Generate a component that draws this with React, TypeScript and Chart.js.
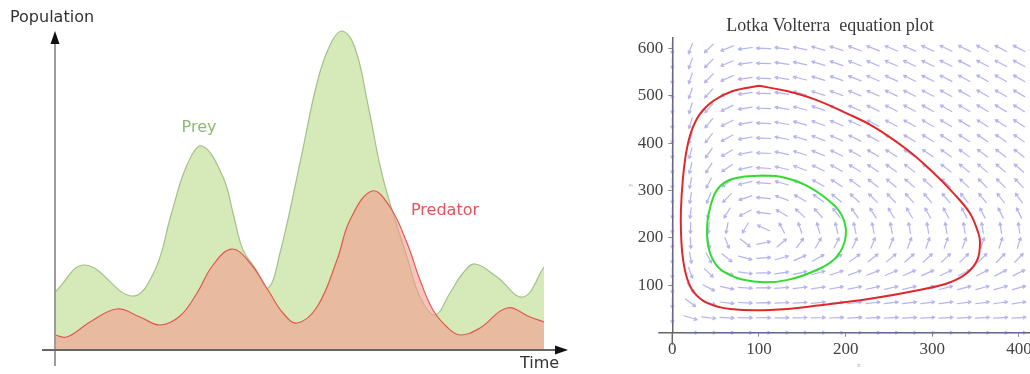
import React, { useEffect, useRef } from "react";
import { Chart, registerables } from "chart.js";

Chart.register(...registerables);

// ---------- Left chart: population over time ----------
const PREY_TIME = [0, 30, 77, 100, 116, 132, 147, 168, 178, 188, 200, 213, 225, 245, 262, 275, 287, 300, 313, 326, 337, 352, 365, 380, 395, 408, 420, 442, 468, 489];
const PREY = [58, 85, 54, 80, 135, 185, 204, 173, 137, 100, 82, 62, 97, 187, 267, 305, 319, 302, 245, 180, 140, 93, 53, 35, 57, 77, 86, 73, 53, 83];

const PREDATOR_TIME = [0, 12, 35, 62, 85, 105, 125, 142, 158, 177, 195, 213, 228, 242, 262, 282, 295, 317, 335, 352, 365, 378, 392, 405, 425, 452, 475, 489];
const PREDATOR = [15, 13, 28, 41, 33, 25, 34, 57, 85, 101, 87, 60, 37, 27, 43, 90, 130, 159, 143, 107, 70, 40, 23, 15, 22, 42, 33, 28];

const LEFT_LABELS = { prey: "Prey", predator: "Predator", yTitle: "Population", xTitle: "Time" };

// ---------- Right chart: Lotka-Volterra phase plane ----------
const OUTER_X = [100, 70, 48, 32, 22, 16, 12, 10, 10, 12, 17, 25, 40, 67, 113, 171, 230, 285, 320, 340, 352, 355, 353, 343, 324, 301, 271, 232, 200, 165, 132, 100];
const OUTER_Y = [521, 510, 490, 462, 425, 380, 320, 260, 215, 160, 115, 85, 63, 50, 48, 58, 72, 90, 106, 126, 154, 190, 211, 253, 295, 338, 386, 435, 464, 492, 510, 521];

const INNER_X = [105, 75, 55, 44, 40, 45, 59, 94, 132, 171, 190, 200, 196, 179, 152, 125, 105];
const INNER_Y = [332, 327, 309, 267, 210, 161, 129, 108, 111, 136, 161, 203, 246, 281, 313, 329, 332];

// Lotka-Volterra model used for the direction field: x' = A x (1 - y/Y*), y' = C y (x/X* - 1)
const LV_A = 2.5;
const LV_C = 1;
const PREY_EQ = 100;
const PRED_EQ = 210;
const FIELD_X_MAX = 400;
const FIELD_Y_MAX = 600;
const FIELD_N = 20;

const RIGHT_TITLE = "Lotka Volterra  equation plot";

function fieldGrid() {
  const pts: { x: number; y: number }[] = [];
  for (let i = 0; i < FIELD_N; i++) {
    for (let j = 0; j < FIELD_N; j++) {
      pts.push({ x: (i * FIELD_X_MAX) / (FIELD_N - 1), y: (j * FIELD_Y_MAX) / (FIELD_N - 1) });
    }
  }
  return pts;
}

const leftDecor = {
  id: "leftDecor",
  afterDatasetsDraw(chart: any) {
    const { ctx, chartArea, scales } = chart;
    const L = chartArea.left;
    const B = chartArea.bottom;
    ctx.save();
    // y axis
    ctx.strokeStyle = "#9c9c9c";
    ctx.lineWidth = 2;
    ctx.beginPath();
    ctx.moveTo(L, B + 16);
    ctx.lineTo(L, 42);
    ctx.stroke();
    ctx.fillStyle = "#111";
    ctx.beginPath();
    ctx.moveTo(L, 31);
    ctx.lineTo(L - 4.5, 44);
    ctx.lineTo(L + 4.5, 44);
    ctx.closePath();
    ctx.fill();
    // x axis
    ctx.strokeStyle = "#666";
    ctx.lineWidth = 2;
    ctx.beginPath();
    ctx.moveTo(L - 13, B);
    ctx.lineTo(chartArea.right + 12, B);
    ctx.stroke();
    ctx.fillStyle = "#111";
    ctx.beginPath();
    ctx.moveTo(chartArea.right + 24, B);
    ctx.lineTo(chartArea.right + 11, B - 4.5);
    ctx.lineTo(chartArea.right + 11, B + 4.5);
    ctx.closePath();
    ctx.fill();
    // texts
    ctx.font = '16px "DejaVu Sans", sans-serif';
    ctx.textBaseline = "middle";
    ctx.textAlign = "left";
    ctx.fillStyle = "#333";
    ctx.fillText(LEFT_LABELS.yTitle, 10, 18);
    ctx.fillText(LEFT_LABELS.xTitle, chartArea.right - 24, 364);
    ctx.textAlign = "center";
    ctx.fillStyle = "#8dbb6e";
    ctx.fillText(LEFT_LABELS.prey, scales.x.getPixelForValue(144), scales.y.getPixelForValue(222));
    ctx.fillStyle = "#e8515b";
    ctx.fillText(LEFT_LABELS.predator, scales.x.getPixelForValue(390), scales.y.getPixelForValue(139));
    ctx.restore();
  },
};

const fieldPlugin = {
  id: "fieldPlugin",
  beforeDatasetsDraw(chart: any) {
    const { ctx } = chart;
    const meta = chart.getDatasetMeta(0);
    const raw = chart.data.datasets[0].data as { x: number; y: number }[];
    const sx = Math.abs(chart.scales.x.getPixelForValue(100) - chart.scales.x.getPixelForValue(0)) / 100;
    const sy = Math.abs(chart.scales.y.getPixelForValue(0) - chart.scales.y.getPixelForValue(100)) / 100;
    ctx.save();
    ctx.strokeStyle = "rgba(105,105,228,0.5)";
    ctx.lineWidth = 1.2;
    ctx.lineCap = "round";
    meta.data.forEach((el: any, i: number) => {
      const { x, y } = raw[i];
      const dx = LV_A * x * (1 - y / PRED_EQ);
      const dy = LV_C * y * (x / PREY_EQ - 1);
      let px = dx * sx;
      let py = -dy * sy;
      const m = Math.hypot(px, py);
      if (m < 1e-9) return;
      px /= m;
      py /= m;
      const len = 1 / Math.sqrt((px / 14) ** 2 + (py / 11) ** 2);
      const hx = el.x + (px * len) / 2;
      const hy = el.y + (py * len) / 2;
      const tx = el.x - (px * len) / 2;
      const ty = el.y - (py * len) / 2;
      ctx.beginPath();
      ctx.moveTo(tx, ty);
      ctx.lineTo(hx, hy);
      const ang = Math.atan2(py, px);
      const ah = 3;
      ctx.moveTo(hx, hy);
      ctx.lineTo(hx - ah * Math.cos(ang - 0.5), hy - ah * Math.sin(ang - 0.5));
      ctx.moveTo(hx, hy);
      ctx.lineTo(hx - ah * Math.cos(ang + 0.5), hy - ah * Math.sin(ang + 0.5));
      ctx.stroke();
    });
    ctx.restore();
  },
};

const axisExt = {
  id: "axisExt",
  afterDraw(chart: any) {
    const { ctx, chartArea } = chart;
    ctx.save();
    ctx.strokeStyle = "#666";
    ctx.lineWidth = 1.5;
    ctx.beginPath();
    ctx.moveTo(chartArea.left - 14, chartArea.bottom);
    ctx.lineTo(chartArea.left, chartArea.bottom);
    ctx.moveTo(chartArea.left, chartArea.bottom);
    ctx.lineTo(chartArea.left, chartArea.bottom + 12);
    ctx.stroke();
    ctx.restore();
  },
};

export default function App() {
  const leftRef = useRef<HTMLCanvasElement>(null);
  const rightRef = useRef<HTMLCanvasElement>(null);

  useEffect(() => {
    const left = new Chart(leftRef.current as HTMLCanvasElement, {
      type: "line",
      data: {
        datasets: [
          {
            label: LEFT_LABELS.predator,
            data: PREDATOR_TIME.map((t, i) => ({ x: t, y: PREDATOR[i] })),
            borderColor: "#e2594f",
            borderWidth: 1.2,
            backgroundColor: "rgba(245,153,141,0.58)",
            fill: "origin",
            pointRadius: 0,
            tension: 0.4,
            order: 0,
          },
          {
            label: LEFT_LABELS.prey,
            data: PREY_TIME.map((t, i) => ({ x: t, y: PREY[i] })),
            borderColor: "#a2c28c",
            borderWidth: 1.2,
            backgroundColor: "#d6e9b9",
            fill: "origin",
            pointRadius: 0,
            tension: 0.4,
            order: 1,
          },
        ],
      } as any,
      options: {
        animation: false,
        responsive: false,
        events: [],
        layout: { padding: { left: 55, right: 56, top: 30, bottom: 24 } },
        scales: {
          x: { type: "linear", min: 0, max: 489, display: false },
          y: { min: 0, max: 320, display: false },
        },
        plugins: { legend: { display: false }, tooltip: { enabled: false } },
      } as any,
      plugins: [leftDecor],
    });

    const serif = '"Liberation Serif", "Times New Roman", serif';
    const right = new Chart(rightRef.current as HTMLCanvasElement, {
      type: "scatter",
      data: {
        datasets: [
          { label: "field", data: fieldGrid(), pointRadius: 0, showLine: false },
          {
            label: "outer",
            data: OUTER_X.map((x, i) => ({ x, y: OUTER_Y[i] })),
            showLine: true,
            borderColor: "#e0282a",
            borderWidth: 2,
            pointRadius: 0,
            tension: 0.4,
            fill: false,
          },
          {
            label: "inner",
            data: INNER_X.map((x, i) => ({ x, y: INNER_Y[i] })),
            showLine: true,
            borderColor: "#30dc30",
            borderWidth: 2,
            pointRadius: 0,
            tension: 0.4,
            fill: false,
          },
        ],
      } as any,
      options: {
        animation: false,
        responsive: false,
        events: [],
        layout: { padding: 0 },
        plugins: {
          legend: { display: false },
          tooltip: { enabled: false },
          title: {
            display: true,
            text: RIGHT_TITLE,
            color: "#3a3a3a",
            font: { family: serif, size: 18, weight: "normal" },
            padding: { top: 15, bottom: 1.4 },
          },
        },
        scales: {
          x: {
            type: "linear",
            min: 0,
            max: 430,
            afterFit: (s: any) => {
              s.height = 41.3;
            },
            ticks: { stepSize: 100, includeBounds: false, autoSkip: false, maxRotation: 0, color: "#444", padding: 3, font: { family: serif, size: 17 } },
            grid: { drawOnChartArea: false, tickLength: 4, color: "#888" },
            border: { color: "#666", width: 1.5 },
            title: { display: true, text: "x", color: "#aaa", font: { family: serif, size: 7 }, padding: { top: 0, bottom: 5 } },
          },
          y: {
            type: "linear",
            min: 0,
            max: 622,
            afterFit: (s: any) => {
              s.width = 57.3;
            },
            ticks: {
              stepSize: 100,
              includeBounds: false,
              autoSkip: false,
              color: "#444",
              padding: 5,
              font: { family: serif, size: 17 },
              callback: (v: any) => (v === 0 ? "" : String(v)),
            },
            grid: { drawOnChartArea: false, tickLength: 4, color: "#888" },
            border: { color: "#666", width: 1.5 },
            title: { display: true, text: "y", color: "#aaa", font: { family: serif, size: 7 }, padding: { top: 11, bottom: 0 } },
          },
        },
      } as any,
      plugins: [fieldPlugin, axisExt],
    });

    return () => {
      left.destroy();
      right.destroy();
    };
  }, []);

  return (
    <div style={{ position: "fixed", left: 0, top: 0, width: 1030, height: 374, overflow: "hidden", background: "#fff" }}>
      <canvas ref={leftRef} width={600} height={374} style={{ position: "absolute", left: 0, top: 0 }} />
      <canvas ref={rightRef} width={430} height={374} style={{ position: "absolute", left: 615, top: 0 }} />
    </div>
  );
}
